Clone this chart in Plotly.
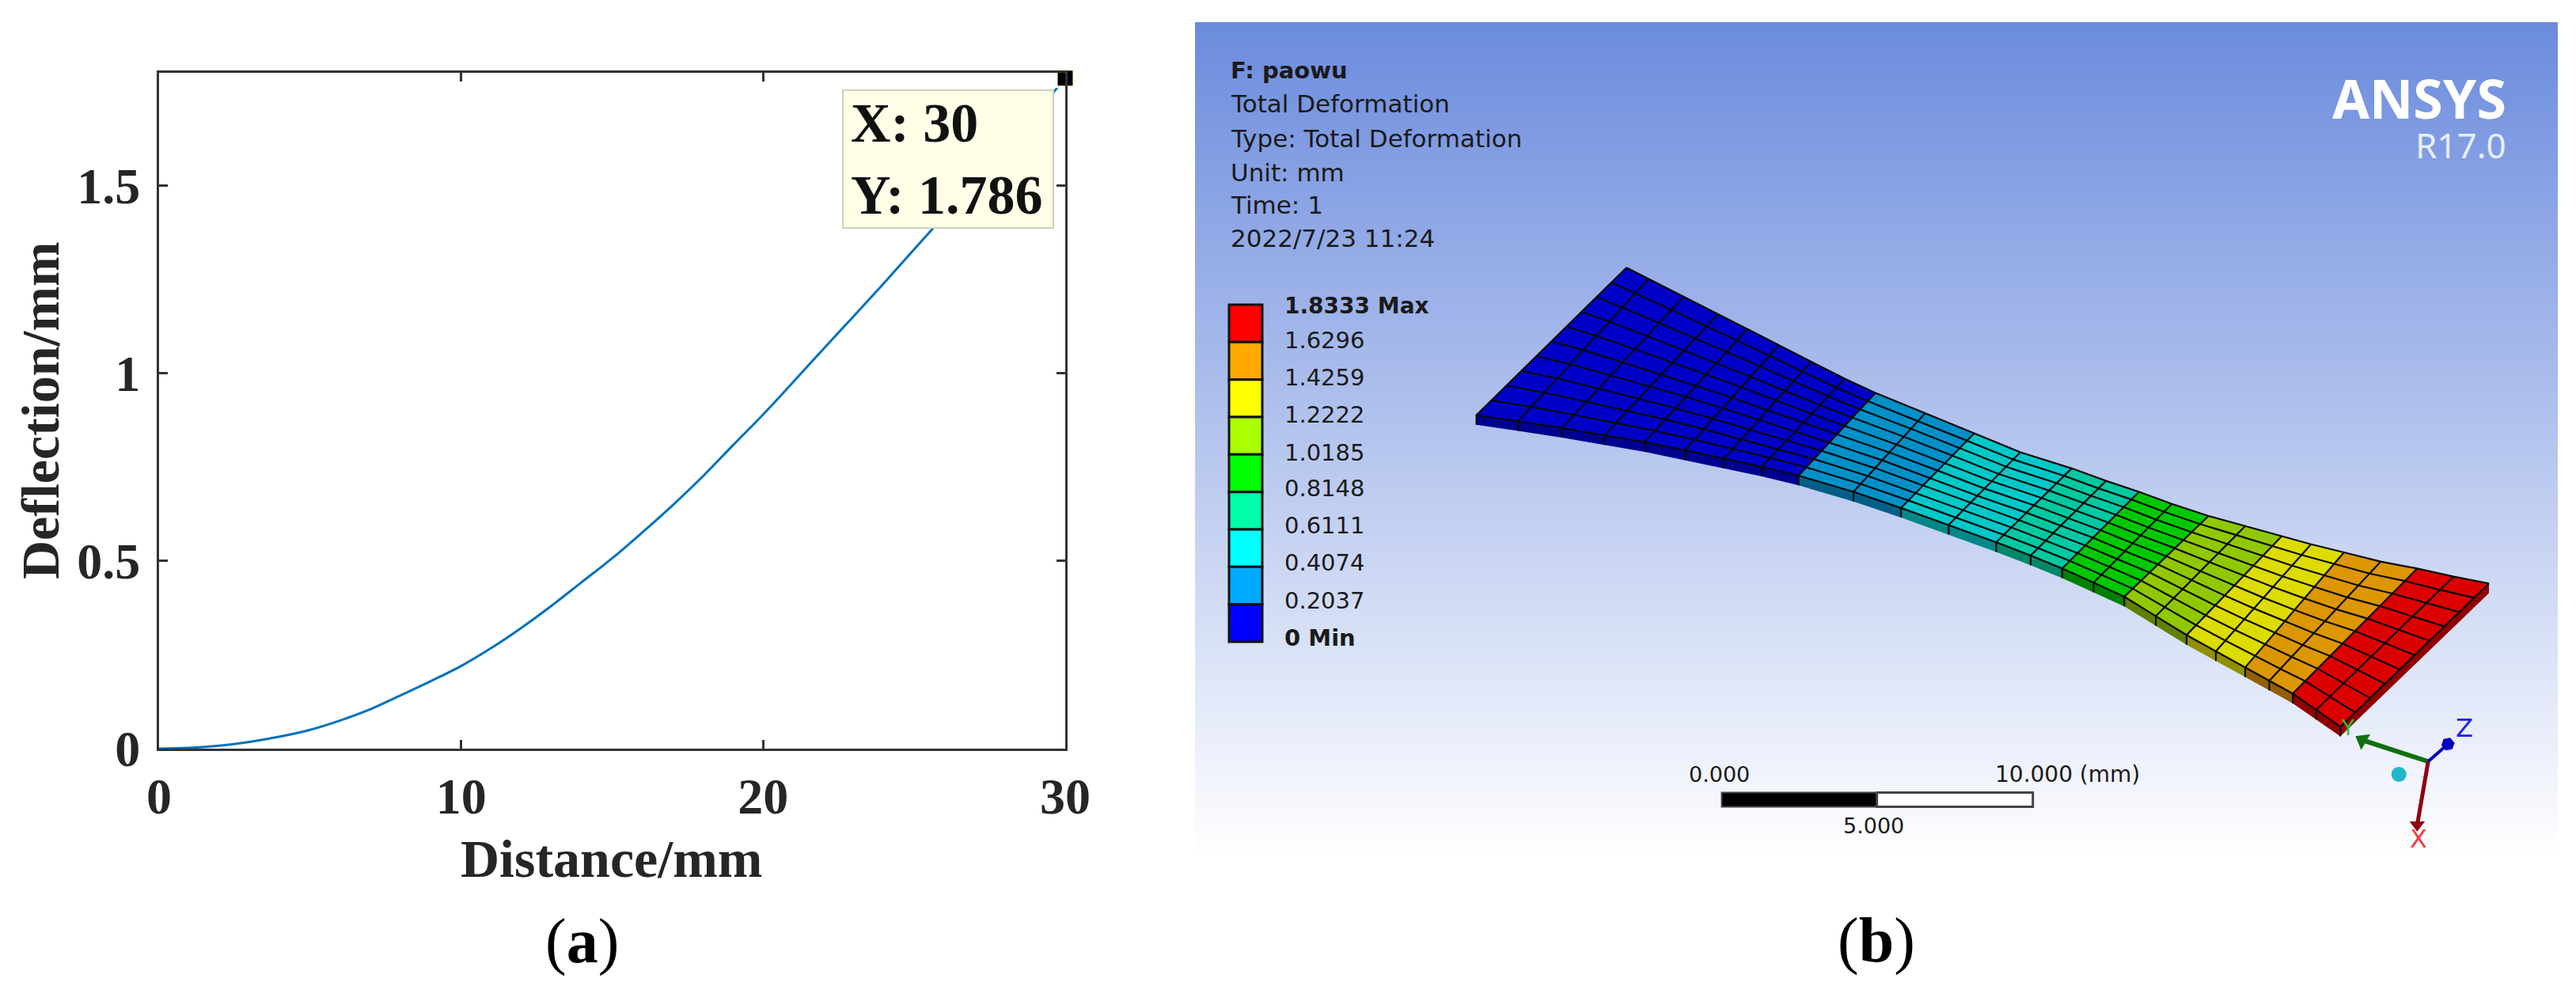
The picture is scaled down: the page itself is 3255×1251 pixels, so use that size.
import plotly.graph_objects as go

# ---------- chart (a) data ----------
DISTANCE = list(range(0, 31))
DEFLECTION = [0, 0.002, 0.008, 0.018, 0.032, 0.050, 0.075, 0.105, 0.142, 0.180, 0.220,
              0.268, 0.322, 0.381, 0.444, 0.507, 0.576, 0.648, 0.725, 0.808, 0.890,
              0.977, 1.065, 1.152, 1.240, 1.330, 1.420, 1.510, 1.600, 1.690, 1.786]
X_TICKS = [0, 10, 20, 30]
Y_TICKS = [0, 0.5, 1, 1.5]
Y_TICK_LABELS = ["0", "0.5", "1", "1.5"]

# ---------- panel (b) data ----------
INFO_LINES = ["<b>F: paowu</b>", "Total Deformation", "Type: Total Deformation",
              "Unit: mm", "Time: 1", "2022/7/23 11:24"]
INFO_SIZES = [29, 31, 31, 31, 31, 31]
INFO_Y = [89, 131, 175, 218, 259, 301]
LEGEND_LABELS = ["<b>1.8333 Max</b>", "1.6296", "1.4259", "1.2222", "1.0185", "0.8148",
                 "0.6111", "0.4074", "0.2037", "<b>0 Min</b>"]
LEGEND_LABEL_SIZES = [28, 29, 29, 29, 29, 29, 29, 29, 29, 29]
LEGEND_LABEL_Y = [386, 430, 477, 524, 572, 617, 664, 711, 759, 806]
LEGEND_COLORS = ["#ff0000", "#ffaa00", "#ffff00", "#aaff00", "#00ff00",
                 "#00ffaa", "#00ffff", "#00aaff", "#0000ff"]
FACE_COLORS = ["#0000c8", "#0090c8", "#00c8c8", "#00c8a0", "#00c800",
               "#90c800", "#dcdc00", "#dc9600", "#dc0000"]
SIDE_COLORS = ["#000090", "#005f88", "#008888", "#008868", "#008000",
               "#608000", "#909000", "#906000", "#900000"]
BAND_STATIONS = [(0, 8), (8, 10), (10, 12), (12, 14), (14, 16), (16, 18), (18, 20), (20, 22), (22, 24)]
MESH_UPPER_X = [330, 360, 408, 455, 495, 538, 582, 628, 670, 738, 805, 868, 938, 985, 1030,
                1075, 1125, 1175, 1225, 1265, 1310, 1360, 1410, 1460, 1508]
MESH_UPPER_Y = [75, 103, 147, 190, 227, 267, 308, 350, 385, 435, 485, 532, 572, 603, 630,
                660, 690, 715, 740, 760, 780, 803, 820, 840, 857]
MESH_LOWER_X = [125, 182, 242, 300, 355, 410, 463, 515, 565, 640, 705, 770, 835, 882, 925,
                968, 1010, 1053, 1095, 1135, 1175, 1208, 1240, 1272, 1305]
MESH_LOWER_Y = [440, 455, 472, 490, 507, 527, 548, 568, 590, 630, 670, 712, 755, 788, 820,
                855, 890, 938, 985, 1025, 1065, 1098, 1130, 1170, 1212]
MESH_ROWS = 10
THICKNESS = 24


def px(dx):
    return 1750 + dx / 1.081


def py(dy):
    return 300 + dy / 1.96


W, H = 3255, 1251
AX_L, AX_R, AX_T, AX_B = 201, 1346, 92, 946
fig = go.Figure()

# ---- chart (a) ----
fig.add_trace(go.Scatter(x=DISTANCE, y=DEFLECTION, mode="lines",
                         line=dict(color="#0072bd", width=3, shape="spline", smoothing=1),
                         hoverinfo="skip", xaxis="x", yaxis="y"))
fig.add_trace(go.Scatter(x=[DISTANCE[-1]], y=[DEFLECTION[-1]], mode="markers", cliponaxis=False,
                         marker=dict(symbol="square", size=22, color="#000000",
                                     line=dict(color="#ffffe6", width=3)),
                         hoverinfo="skip", xaxis="x", yaxis="y"))

serif = "Liberation Serif"
common = dict(showgrid=False, zeroline=False, showline=True, linecolor="#333333", linewidth=3,
              mirror="ticks", ticks="inside", ticklen=11, tickwidth=3, tickcolor="#333333",
              automargin=False,
              tickfont=dict(family=serif, size=64, color="#262626", weight="bold"))
fig.update_layout(
    xaxis=dict(domain=[AX_L / W, AX_R / W], range=[0, 30], tickvals=X_TICKS,
               ticklabelstandoff=2, **common),
    yaxis=dict(domain=[1 - AX_B / H, 1 - AX_T / H], range=[0, 1.8], tickvals=Y_TICKS,
               ticktext=Y_TICK_LABELS, ticklabelstandoff=8, anchor="x", **common),
    xaxis3=dict(domain=[0, 1], range=[0, W], visible=False, fixedrange=True, anchor="y3", automargin=False),
    yaxis3=dict(domain=[0, 1], range=[H, 0], visible=False, fixedrange=True, anchor="x3", automargin=False),
)

# ---- panel (b) background ----
BG_TOP, BG_BOTTOM, BG_ROWS = 28, 1087, 300
edges = [BG_TOP + (BG_BOTTOM - BG_TOP) * i / BG_ROWS for i in range(BG_ROWS + 1)]
fig.add_trace(go.Heatmap(x=[1510, 3232], y=edges, z=[[i / (BG_ROWS - 1)] for i in range(BG_ROWS)],
                         zmin=0, zmax=1,
                         colorscale=[[0, "rgb(107,139,221)"], [1, "rgb(255,255,255)"]],
                         showscale=False, hoverinfo="skip", xaxis="x3", yaxis="y3"))

# ---- mesh ----
for (a, b), face, side in zip(BAND_STATIONS, FACE_COLORS, SIDE_COLORS):
    idx = list(range(a, b + 1))
    sx = [px(MESH_LOWER_X[i]) for i in idx] + [px(MESH_LOWER_X[i]) for i in reversed(idx)]
    sy = [py(MESH_LOWER_Y[i]) for i in idx] + [py(MESH_LOWER_Y[i] + THICKNESS) for i in reversed(idx)]
    fig.add_trace(go.Scatter(x=sx, y=sy, mode="lines", fill="toself", fillcolor=side, line=dict(width=0),
                             hoverinfo="skip", xaxis="x3", yaxis="y3"))
    fx = [px(MESH_UPPER_X[i]) for i in idx] + [px(MESH_LOWER_X[i]) for i in reversed(idx)]
    fy = [py(MESH_UPPER_Y[i]) for i in idx] + [py(MESH_LOWER_Y[i]) for i in reversed(idx)]
    fig.add_trace(go.Scatter(x=fx, y=fy, mode="lines", fill="toself", fillcolor=face, line=dict(width=0),
                             hoverinfo="skip", xaxis="x3", yaxis="y3"))
# right end face
ex = [MESH_UPPER_X[-1], MESH_LOWER_X[-1], MESH_LOWER_X[-1], MESH_UPPER_X[-1]]
ey = [MESH_UPPER_Y[-1], MESH_LOWER_Y[-1], MESH_LOWER_Y[-1] + THICKNESS, MESH_UPPER_Y[-1] + THICKNESS]
fig.add_trace(go.Scatter(x=[px(v) for v in ex], y=[py(v) for v in ey], mode="lines", fill="toself",
                         fillcolor=SIDE_COLORS[-1], line=dict(width=0), hoverinfo="skip", xaxis="x3", yaxis="y3"))
# grid lines
gx, gy = [], []
n = len(MESH_UPPER_X)
for i in range(n):
    gx += [px(MESH_UPPER_X[i]), px(MESH_LOWER_X[i]), px(MESH_LOWER_X[i]), None]
    gy += [py(MESH_UPPER_Y[i]), py(MESH_LOWER_Y[i]), py(MESH_LOWER_Y[i] + THICKNESS), None]
for r in range(MESH_ROWS + 1):
    t = r / MESH_ROWS
    for i in range(n):
        gx.append(px(MESH_UPPER_X[i] + t * (MESH_LOWER_X[i] - MESH_UPPER_X[i])))
        gy.append(py(MESH_UPPER_Y[i] + t * (MESH_LOWER_Y[i] - MESH_UPPER_Y[i])))
    gx.append(None)
    gy.append(None)
fig.add_trace(go.Scatter(x=gx, y=gy, mode="lines", line=dict(color="#0a0a0a", width=2.2),
                         hoverinfo="skip", xaxis="x3", yaxis="y3"))

# ---- triad ----
ORIGIN = (1425, 1298)
TRIAD = [((1335, 1245), "#107010", 6, "triangle-up", -60, 20),
         ((1452, 1255), "#0000c0", 4, "hexagon", 20, 17),
         ((1410, 1455), "#900010", 5, "triangle-down", 0, 17)]
for (tip, col, wid, sym, ang, size) in TRIAD:
    fig.add_trace(go.Scatter(x=[px(ORIGIN[0]), px(tip[0])], y=[py(ORIGIN[1]), py(tip[1])], mode="lines",
                             line=dict(color=col, width=wid), hoverinfo="skip", xaxis="x3", yaxis="y3"))
    fig.add_trace(go.Scatter(x=[px(tip[0])], y=[py(tip[1])], mode="markers",
                             marker=dict(symbol=sym, angle=ang, size=size, color=col),
                             hoverinfo="skip", xaxis="x3", yaxis="y3"))
fig.add_trace(go.Scatter(x=[px(1385)], y=[py(1330)], mode="markers",
                         marker=dict(symbol="circle", size=19, color="#20b8c8"),
                         hoverinfo="skip", xaxis="x3", yaxis="y3"))

# ---- shapes ----
shapes = []
LEG_L, LEG_R, LEG_T, LEG_B = 1553, 1595, 385, 811
band = (LEG_B - LEG_T) / len(LEGEND_COLORS)
for i, c in enumerate(LEGEND_COLORS):
    shapes.append(dict(type="rect", xref="x3", yref="y3", x0=LEG_L, x1=LEG_R, y0=LEG_T + i * band,
                       y1=LEG_T + (i + 1) * band, fillcolor=c, line=dict(color="#111111", width=3)))
shapes.append(dict(type="rect", xref="x3", yref="y3", x0=px(460), x1=px(672), y0=py(1375), y1=py(1410),
                   fillcolor="#000000", line=dict(color="#444444", width=2)))
shapes.append(dict(type="rect", xref="x3", yref="y3", x0=px(672), x1=px(885), y0=py(1375), y1=py(1410),
                   fillcolor="#ffffff", line=dict(color="#444444", width=3)))

# ---- texts ----
ann = []


def note(x, y, text, size, family="DejaVu Sans", color="#1a1a1a", xanchor="center", **kw):
    ann.append(dict(xref="x3", yref="y3", x=x, y=y, text=text, showarrow=False, xanchor=xanchor,
                    yanchor="middle", font=dict(family=family, size=size, color=color), **kw))


for t, y, s in zip(INFO_LINES, INFO_Y, INFO_SIZES):
    note(1553, y, t, s, xanchor="left")
for t, y, s in zip(LEGEND_LABELS, LEGEND_LABEL_Y, LEGEND_LABEL_SIZES):
    note(1621, y, t, s, xanchor="left")
note(3169, 123, "<b>ANSYS</b>", 68, family="Noto Sans", color="#ffffff", xanchor="right")
note(3169, 183, "R17.0", 44, family="Noto Sans", color="#e8eefa", xanchor="right")
note(px(457), py(1330), "0.000", 27)
note(px(932), py(1330), "10.000 (mm)", 28)
note(px(667), py(1458), "5.000", 27)
note(px(1315), py(1215), "Y", 26, color="#30c030")
note(px(1475), py(1215), "Z", 32, color="#2020f0")
note(px(1412), py(1490), "X", 32, color="#f04040")
note(735, 1189, "(<b>a</b>)", 80, family=serif, color="#000000")
note(2371, 1188, "(<b>b</b>)", 80, family=serif, color="#000000")
note(772, 1085, "<b>Distance/mm</b>", 68, family=serif, color="#262626")
note(51, 519, "<b>Deflection/mm</b>", 68, family=serif, color="#262626", textangle=-90)
note(1064, 201, "<b>X: 30</b><br><b>Y: 1.786</b>", 70, family=serif, color="#111111", xanchor="left",
     align="left", bgcolor="#ffffe8", bordercolor="#cfcfc0", borderwidth=2, borderpad=9,
     width=246, height=154)

fig.update_layout(width=W, height=H, autosize=False, margin=dict(l=0, r=0, t=0, b=0),
                  showlegend=False, paper_bgcolor="#ffffff", plot_bgcolor="rgba(0,0,0,0)",
                  shapes=shapes, annotations=ann)
fig.write_html("out.html", config=dict(displayModeBar=False),
               post_script="document.body.style.margin='0';document.body.style.overflow='hidden';")
